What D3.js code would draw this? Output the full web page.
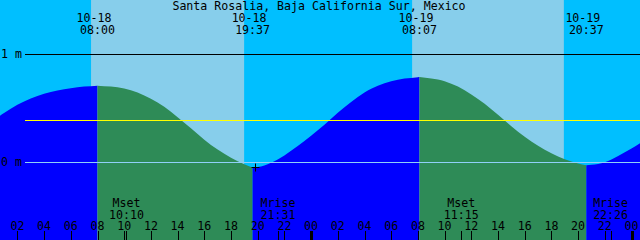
<!DOCTYPE html>
<html>
<head>
<meta charset="utf-8">
<script src="https://cdn.jsdelivr.net/npm/d3@7"></script>
<style>
  body { margin: 0; background: #fff; }
  svg { display: block; }
  text { font-family: "DejaVu Sans Mono", monospace; font-size: 11.6px; fill: #000; }
</style>
</head>
<body>
<div id="chart"></div>
<script>
// Chart dimensions.
const width = 640;
const height = 240;

const title = "Santa Rosalia, Baja California Sur, Mexico";

// Hourly tide heights (m), starting 10-18 00:00.
const startTime = "10-18 00:00";
const hourlyHeights = [
  0.372, 0.453, 0.529, 0.587, 0.631, 0.662, 0.683, 0.698, 0.707, 0.698,
  0.681, 0.643, 0.585, 0.511, 0.415, 0.312, 0.207, 0.115, 0.040, -0.020,
  -0.046, -0.006, 0.061, 0.147, 0.244, 0.346, 0.455, 0.556, 0.644, 0.705,
  0.747, 0.772, 0.784, 0.772, 0.748, 0.698, 0.626, 0.539, 0.437, 0.332,
  0.234, 0.150, 0.081, 0.025, -0.014, -0.026, -0.002, 0.056, 0.125, 0.204
];

// High / low tides (labelled at the top).
const extremaTimes = ["10-18 08:00", "10-18 19:37", "10-19 08:07", "10-19 20:37"];
const extremaHeights = [0.707, -0.05, 0.786, -0.030];

// Daylight bands.
const sunriseTimes = ["10-18 07:31", "10-19 07:34"];
const sunsetTimes = ["10-18 18:59", "10-19 18:56"];

// Moon events.
const moonNames = ["Mset", "Mrise", "Mset", "Mrise"];
const moonTimes = ["10-18 10:10", "10-18 21:31", "10-19 11:15", "10-19 22:26"];

// Reference levels.
const levelValues = [1, 0];
const levelLabels = ["1 m", "0 m"];
const meanLevel = 0.389;

// Marker.
const markTime = "10-18 19:49";
const markHeight = -0.05;

const parse = d3.timeParse("%m-%d %H:%M");
const t0 = parse(startTime);
const hour = 3600 * 1000;

const x = d3.scaleTime()
  .domain([t0, new Date(+t0 + 48 * hour)])
  .range([-9.3, -9.3 + 48 * 13.35]);

const y = d3.scaleLinear()
  .domain([0, 1])
  .range([162, 54]);

const svg = d3.select("#chart").append("svg")
  .attr("width", width)
  .attr("height", height);

// Night background and day bands.
svg.append("rect").attr("width", width).attr("height", height).attr("fill", "#00bfff");
svg.selectAll(".day")
  .data(sunriseTimes.map((d, i) => [parse(d), parse(sunsetTimes[i])]))
  .enter().append("rect")
  .attr("x", d => x(d[0]))
  .attr("width", d => x(d[1]) - x(d[0]))
  .attr("y", 0)
  .attr("height", height)
  .attr("fill", "#87ceeb");

// Tide points, hourly plus extrema.
const extrema = extremaTimes.map((d, i) => ({ t: parse(d), h: extremaHeights[i] }));
let points = hourlyHeights.map((h, i) => ({ t: new Date(+t0 + i * hour), h: h }));
points = points.concat(extrema).sort((a, b) => a.t - b.t);

// Split into rising / falling segments between the extrema.
const breaks = [x.domain()[0], ...extrema.map(d => d.t), new Date(+t0 + 49 * hour)];
const area = d3.area()
  .x(d => x(d.t))
  .y0(height)
  .y1(d => y(d.h))
  .curve(d3.curveMonotoneX);

for (let i = 0; i < breaks.length - 1; i++) {
  const seg = points.filter(d => d.t >= breaks[i] && d.t <= breaks[i + 1]);
  const rising = seg[seg.length - 1].h > seg[0].h;
  svg.append("path")
    .datum(seg)
    .attr("d", area)
    .attr("fill", rising ? "#0000ff" : "#2e8b57");
}

// Level lines.
svg.selectAll(".level")
  .data(levelValues)
  .enter().append("line")
  .attr("x1", 25).attr("x2", width)
  .attr("y1", d => Math.round(y(d)) + 0.5)
  .attr("y2", d => Math.round(y(d)) + 0.5)
  .attr("stroke", d => d === 0 ? "#90d0f8" : "#000")
  .attr("stroke-width", 1);

svg.append("line")
  .attr("x1", 25).attr("x2", width)
  .attr("y1", Math.round(y(meanLevel)) + 0.5)
  .attr("y2", Math.round(y(meanLevel)) + 0.5)
  .attr("stroke", "#ffff00")
  .attr("stroke-width", 1);

svg.selectAll(".level-label")
  .data(levelValues)
  .enter().append("text")
  .attr("x", 22)
  .attr("y", d => y(d) + 4)
  .attr("text-anchor", "end")
  .text((d, i) => levelLabels[i]);

// Title.
svg.append("text")
  .attr("x", 319)
  .attr("y", 10)
  .attr("text-anchor", "middle")
  .text(title);

// Extrema labels.
const ext = svg.selectAll(".ext").data(extremaTimes).enter().append("g");
ext.append("text")
  .attr("x", d => x(parse(d)) - 3.5)
  .attr("y", 21.5)
  .attr("text-anchor", "middle")
  .text(d => d.split(" ")[0]);
ext.append("text")
  .attr("x", d => x(parse(d)))
  .attr("y", 33.5)
  .attr("text-anchor", "middle")
  .text(d => d.split(" ")[1]);

// Moon labels.
const moon = svg.selectAll(".moon").data(moonTimes).enter().append("g");
moon.append("text")
  .attr("x", d => x(parse(d)))
  .attr("y", 206.5)
  .attr("text-anchor", "middle")
  .text((d, i) => moonNames[i]);
moon.append("text")
  .attr("x", d => x(parse(d)))
  .attr("y", 218.5)
  .attr("text-anchor", "middle")
  .text(d => d.split(" ")[1]);
svg.selectAll(".moon-tick").data(moonTimes).enter().append("line")
  .attr("x1", d => Math.round(x(parse(d))) + 0.5)
  .attr("x2", d => Math.round(x(parse(d))) + 0.5)
  .attr("y1", 231).attr("y2", height)
  .attr("stroke", "#000");

// Hour ticks and labels.
const hourTicks = x.ticks(d3.timeHour.every(2)).filter(d => x(d) > 0 && x(d) < width);
svg.selectAll(".tick").data(hourTicks).enter().append("line")
  .attr("x1", d => Math.round(x(d)) + 0.5)
  .attr("x2", d => Math.round(x(d)) + 0.5)
  .attr("y1", 231).attr("y2", height)
  .attr("stroke", "#000")
  .attr("stroke-width", d => d.getHours() === 0 ? 3 : 1);
svg.selectAll(".tick-label").data(hourTicks).enter().append("text")
  .attr("x", d => x(d))
  .attr("y", 229.5)
  .attr("text-anchor", "middle")
  .text(d3.timeFormat("%H"));

// Marker cross.
const mx = Math.round(x(parse(markTime))) + 0.5;
const my = Math.round(y(markHeight)) + 0.5;
svg.append("path")
  .attr("d", `M${mx - 4},${my}H${mx + 4}M${mx},${my - 4}V${my + 4}`)
  .attr("stroke", "#000")
  .attr("stroke-width", 1);
</script>
</body>
</html>
